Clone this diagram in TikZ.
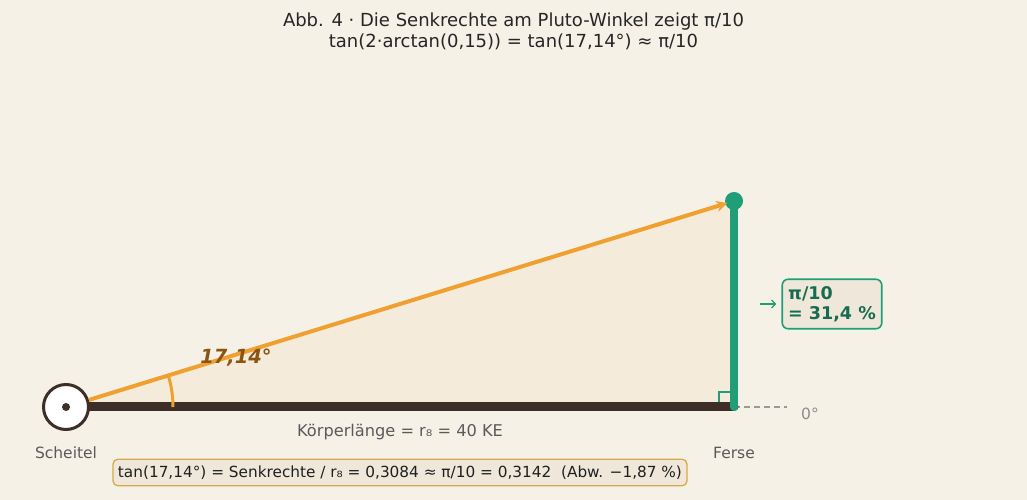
\documentclass[tikz,border=0pt]{standalone}
\usepackage{fontspec}
\setmainfont{DejaVu Sans}
\usetikzlibrary{arrows.meta,positioning}
\definecolor{paper}{HTML}{F6F1E7}
\definecolor{wedge}{HTML}{F4EBDA}
\definecolor{bar}{HTML}{3D2F27}
\definecolor{ray}{HTML}{F0A030}
\definecolor{perp}{HTML}{1F9E77}
\definecolor{perptext}{HTML}{176B50}
\definecolor{anglebrown}{HTML}{8A5510}
\definecolor{note}{HTML}{5A5A5A}
\definecolor{boxfill}{HTML}{EFE8DA}
\definecolor{boxline}{HTML}{D9A84A}

\begin{document}
\begin{tikzpicture}[x=1pt,y=1pt,thick,
  caption/.style={font=\fontsize{18}{21}\selectfont,text=black!85,align=center},
  tag/.style={font=\fontsize{15.5}{18}\selectfont,text=note},
  infobox/.style={draw=boxline,fill=boxfill,rounded corners=5pt,line width=1.3pt,
    font=\fontsize{15.3}{18}\selectfont,text=black!88,inner xsep=5pt,inner ysep=6.5pt},
  ratiobox/.style={draw=perp,fill=boxfill,rounded corners=6pt,line width=1.6pt,
    font=\bfseries\fontsize{17.5}{20}\selectfont,text=perptext,align=left,inner xsep=6pt,inner ysep=7pt}]
\fill[paper] (0,0) rectangle (1027,500);
\useasboundingbox (0,0) rectangle (1027,500);
% Titel
\node[caption] (title) at (513.5,468.5) {Abb. 4 · Die Senkrechte am Pluto-Winkel zeigt π/10\\tan(2·arctan(0,15)) = tan(17,14°) ≈ π/10};
% Dreieck
\coordinate (V) at (66,93);
\coordinate (F) at (734,93);
\coordinate (T) at (734,299);
\fill[wedge] (V) -- (F) -- (T) -- cycle;
\draw[perp,line width=1.5pt] (719,93) |- (734,108);
\draw[gray!80,dash pattern=on 6pt off 4pt,line width=1.5pt] (F) -- (787,93);
\node[text=gray!90,font=\fontsize{15.5}{18}\selectfont] (zero) at (810,86) {0°};
\draw[bar,line width=9pt,line cap=round] (V) -- (F);
\draw[perp,line width=8pt,line cap=round] (F) -- (T);
\fill[perp] (T) circle (9);
\draw[ray,line width=3pt] (V) ++(0:107) arc[start angle=0,end angle=17.14,radius=107];
\node[circle,draw=bar,line width=3pt,fill=white,minimum size=45pt,inner sep=0pt] (scheitel) at (V) {};
\fill[bar] (V) circle (4);
\draw[ray,line width=4pt,-{Stealth[length=11pt,width=11pt]},shorten >=7pt] (scheitel) -- (T);
\node[font=\bfseries\itshape\fontsize{19.5}{22}\selectfont,text=anglebrown] (angle) at (236,142) {17,14°};
% Beschriftung
\node[tag,font=\fontsize{16.2}{19}\selectfont] (length) at (400,68) {Körperlänge = r₈ = 40 KE};
\node[tag] (scheitellabel) at (66,47) {Scheitel};
\node[tag] (ferse) at (734,47) {Ferse};
\node[ratiobox] (ratio) at (832,196) {π/10\\= 31,4 \%};
\draw[perp,line width=1.3pt,-{Straight Barb[length=4pt,width=8pt]}] ([xshift=-21pt]ratio.west) -- ([xshift=-5pt]ratio.west);
\node[infobox] (formula) at (400,27.5) {tan(17,14°) = Senkrechte / r₈ = 0,3084 ≈ π/10 = 0,3142\ \ (Abw. −1,87 \%)};
\end{tikzpicture}
\end{document}
